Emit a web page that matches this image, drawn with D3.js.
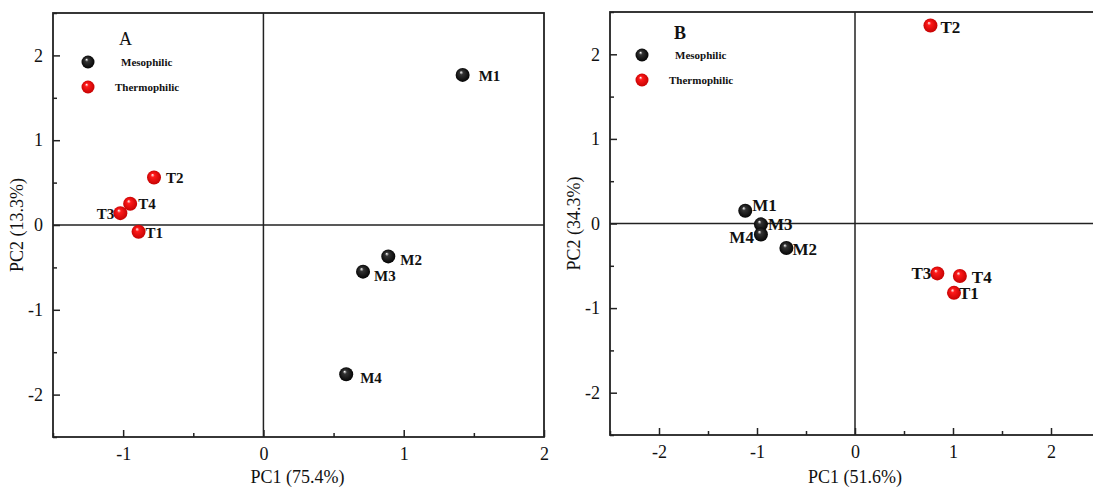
<!DOCTYPE html>
<html>
<head>
<meta charset="utf-8">
<script src="https://cdn.jsdelivr.net/npm/d3@7"></script>
<style>
  body { margin: 0; background: #fff; }
  svg { display: block; }
  text { font-family: "Liberation Serif", "Times New Roman", serif; fill: #111; }
</style>
</head>
<body>
<svg id="chart" width="1093" height="490"></svg>
<script>
// panel A
const namesA = ["M1", "M2", "M3", "M4", "T1", "T2", "T3", "T4"];
const groupA = ["M", "M", "M", "M", "T", "T", "T", "T"];
const pc1A = [1.42, 0.89, 0.71, 0.59, -0.89, -0.78, -1.02, -0.95];
const pc2A = [1.77, -0.37, -0.55, -1.76, -0.08, 0.56, 0.14, 0.25];

// panel B
const namesB = ["M1", "M2", "M3", "M4", "T1", "T2", "T3", "T4"];
const groupB = ["M", "M", "M", "M", "T", "T", "T", "T"];
const pc1B = [-1.12, -0.70, -0.96, -0.96, 1.01, 0.77, 0.84, 1.07];
const pc2B = [0.15, -0.29, -0.01, -0.13, -0.82, 2.34, -0.59, -0.62];

const xTicksA = [-1, 0, 1, 2];
const xTicksB = [-2, -1, 0, 1, 2];
const yTicks = [-2, -1, 0, 1, 2];
const legendNames = ["Mesophilic", "Thermophilic"];

// label offsets (dx, dy, anchor) per point
const labelOffA = {
  M1: [16, 6, "start"], M2: [12, 9, "start"], M3: [11, 9, "start"], M4: [14, 9, "start"],
  T1: [7, 6, "start"], T2: [12, 5, "start"], T3: [-6, 6, "end"], T4: [8, 5, "start"]
};
const labelOffB = {
  M1: [7, 0, "start"], M2: [6, 7, "start"], M3: [7, 6, "start"], M4: [-7, 9, "end"],
  T1: [5, 6, "start"], T2: [10, 7, "start"], T3: [-6, 6, "end"], T4: [12, 7, "start"]
};

const svg = d3.select("#chart");
const defs = svg.append("defs");
const fmt = d => String(d);   // plain hyphen minus like the original

function sphereGrad(id, base, dark) {
  const g = defs.append("radialGradient").attr("id", id)
    .attr("cx", "50%").attr("cy", "50%").attr("r", "55%")
    .attr("fx", "38%").attr("fy", "30%");
  g.append("stop").attr("offset", "0%").attr("stop-color", "#ffffff");
  g.append("stop").attr("offset", "25%").attr("stop-color", base);
  g.append("stop").attr("offset", "100%").attr("stop-color", dark);
}
sphereGrad("gM", "#333", "#000");
sphereGrad("gT", "#ff1a1a", "#c00000");

function panel(cfg) {
  const x = d3.scaleLinear().domain(cfg.xDomain).range([cfg.left, cfg.right]);
  const y = d3.scaleLinear().domain([-2.5, 2.5]).range([cfg.bottom, cfg.top]);
  const g = svg.append("g");

  // zero lines
  g.append("line").attr("x1", x(0)).attr("x2", x(0)).attr("y1", cfg.top).attr("y2", cfg.bottom)
    .attr("stroke", "#222").attr("stroke-width", 1.5);
  g.append("line").attr("x1", cfg.left).attr("x2", cfg.right).attr("y1", y(0)).attr("y2", y(0))
    .attr("stroke", "#222").attr("stroke-width", 1.5);

  // axes with inward ticks
  const minorX = d3.range(cfg.xDomain[0], cfg.xDomain[1] + 0.01, 0.5).filter(v => !cfg.xTicks.includes(v));
  const minorY = d3.range(-2.5, 2.51, 0.5).filter(v => !yTicks.includes(v));

  g.append("g").attr("transform", `translate(0,${cfg.bottom})`)
    .call(d3.axisBottom(x).tickValues(cfg.xTicks).tickSize(-7).tickPadding(10).tickFormat(fmt));
  g.append("g").attr("transform", `translate(0,${cfg.bottom})`)
    .call(d3.axisBottom(x).tickValues(minorX).tickSize(-4).tickFormat(""))
    .call(a => a.select(".domain").remove());
  g.append("g").attr("transform", `translate(${cfg.left},0)`)
    .call(d3.axisLeft(y).tickValues(yTicks).tickSize(-7).tickPadding(10).tickFormat(fmt));
  g.append("g").attr("transform", `translate(${cfg.left},0)`)
    .call(d3.axisLeft(y).tickValues(minorY).tickSize(-4).tickFormat(""))
    .call(a => a.select(".domain").remove());

  g.selectAll(".tick line").attr("stroke", "#222").attr("stroke-width", 1.5);
  g.selectAll(".domain").remove();
  g.selectAll(".tick text").attr("font-size", 18)
    .style("font-family", "Liberation Serif, serif").attr("fill", "#111");

  // frame
  g.append("rect").attr("x", cfg.left).attr("y", cfg.top)
    .attr("width", cfg.right - cfg.left).attr("height", cfg.bottom - cfg.top)
    .attr("fill", "none").attr("stroke", "#222").attr("stroke-width", 1.8);

  // axis titles
  g.append("text").attr("x", x(0) + cfg.xTitleShift).attr("y", 483).attr("text-anchor", "middle")
    .attr("font-size", 18).text(cfg.xTitle);
  g.append("text").attr("transform", `translate(${cfg.left - 30},${y(0)}) rotate(-90)`)
    .attr("text-anchor", "middle").attr("font-size", 18).text(cfg.yTitle);

  // panel letter + legend
  g.append("text").attr("x", cfg.letterX).attr("y", cfg.letterY).attr("font-size", 18)
    .attr("font-weight", cfg.letterBold ? "bold" : "normal").text(cfg.letter);
  legendNames.forEach((nm, i) => {
    const cy = cfg.legY + i * 25;
    g.append("circle").attr("cx", cfg.legX).attr("cy", cy).attr("r", 6.5)
      .attr("fill", i === 0 ? "url(#gM)" : "url(#gT)");
    g.append("text").attr("x", cfg.legX + (i === 0 ? 33 : 27)).attr("y", cy + 4)
      .attr("font-size", 11).attr("font-weight", "bold").text(nm);
  });

  // points
  const pts = cfg.names.map((n, i) => ({ n, grp: cfg.group[i], px: cfg.pc1[i], py: cfg.pc2[i] }));
  g.selectAll("circle.pt").data(pts).enter().append("circle").attr("class", "pt")
    .attr("cx", d => x(d.px)).attr("cy", d => y(d.py)).attr("r", 7)
    .attr("fill", d => d.grp === "M" ? "url(#gM)" : "url(#gT)");
  g.selectAll("text.lbl").data(pts).enter().append("text").attr("class", "lbl")
    .attr("x", d => x(d.px) + cfg.off[d.n][0]).attr("y", d => y(d.py) + cfg.off[d.n][1])
    .attr("text-anchor", d => cfg.off[d.n][2])
    .attr("font-size", cfg.lblSize).attr("font-weight", "bold").text(d => d.n);
}

panel({
  xDomain: [-1.5, 2], xTicks: xTicksA, left: 53, right: 544, top: 13, bottom: 437,
  names: namesA, group: groupA, pc1: pc1A, pc2: pc2A, off: labelOffA, lblSize: 15,
  xTitle: "PC1 (75.4%)", xTitleShift: 34, yTitle: "PC2 (13.3%)",
  letter: "A", letterX: 119, letterY: 45, letterBold: false, legX: 88, legY: 62
});
panel({
  xDomain: [-2.5, 2.5], xTicks: xTicksB, left: 610, right: 1100, top: 12, bottom: 435,
  names: namesB, group: groupB, pc1: pc1B, pc2: pc2B, off: labelOffB, lblSize: 17,
  xTitle: "PC1 (51.6%)", xTitleShift: 0, yTitle: "PC2 (34.3%)",
  letter: "B", letterX: 674, letterY: 39, letterBold: true, legX: 642, legY: 55
});
</script>
</body>
</html>
